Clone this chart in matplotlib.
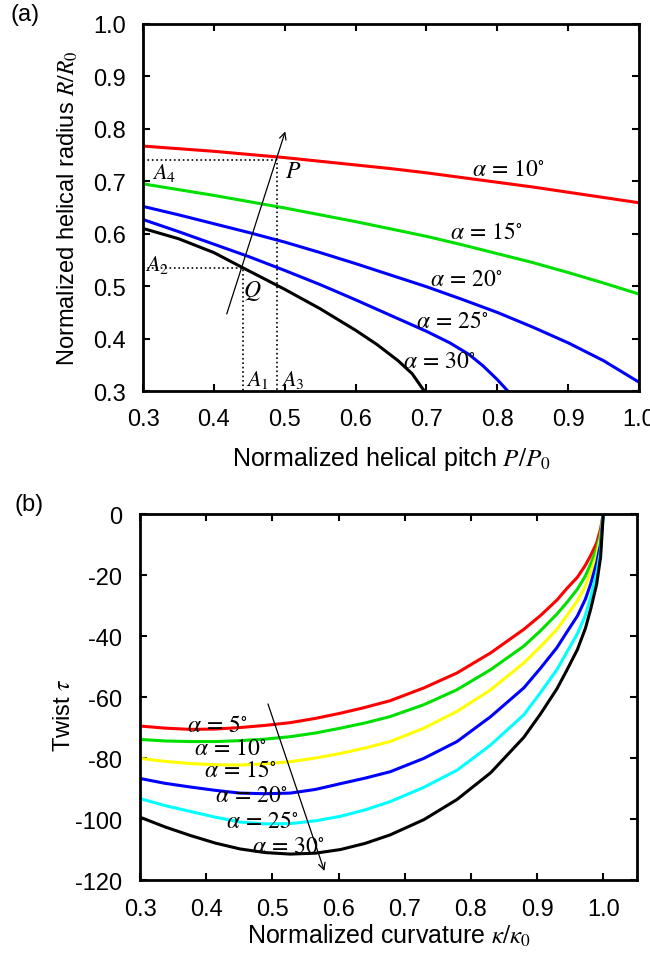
import matplotlib
matplotlib.use('Agg')
import matplotlib.pyplot as plt
from matplotlib.ticker import FormatStrFormatter

plt.rcParams['font.family'] = ['Liberation Sans', 'DejaVu Sans']
plt.rcParams['mathtext.fontset'] = 'stix'
plt.rcParams['axes.unicode_minus'] = False

# ---- panel (a): helical radius vs helical pitch ----
pitch = [0.3, 0.35, 0.4, 0.45, 0.5, 0.55, 0.6, 0.65, 0.7, 0.75, 0.8, 0.85, 0.9, 0.95, 1.0]
radius_10 = [0.767, 0.762, 0.757, 0.751, 0.745, 0.738, 0.731, 0.724, 0.716, 0.707, 0.698, 0.689, 0.679, 0.669, 0.659]
radius_15 = [0.695, 0.684, 0.673, 0.661, 0.649, 0.636, 0.623, 0.609, 0.595, 0.579, 0.562, 0.545, 0.526, 0.506, 0.485]
radius_20 = [0.652, 0.636, 0.619, 0.602, 0.584, 0.564, 0.543, 0.521, 0.499, 0.475, 0.450, 0.422, 0.392, 0.358, 0.317]
pitch_25 = [0.3, 0.35, 0.4, 0.45, 0.5, 0.55, 0.6, 0.65, 0.7, 0.733, 0.76, 0.78, 0.8, 0.815]
radius_25 = [0.627, 0.604, 0.580, 0.556, 0.530, 0.503, 0.474, 0.444, 0.414, 0.392, 0.370, 0.348, 0.322, 0.300]
pitch_30 = [0.3, 0.35, 0.4, 0.441, 0.5, 0.55, 0.6, 0.63, 0.66, 0.68, 0.697]
radius_30 = [0.610, 0.5905, 0.564, 0.535, 0.494, 0.457, 0.416, 0.389, 0.358, 0.333, 0.300]

labels_a = [r'$\alpha\,=\,10^{\circ}$', r'$\alpha\,=\,15^{\circ}$', r'$\alpha\,=\,20^{\circ}$',
            r'$\alpha\,=\,25^{\circ}$', r'$\alpha\,=\,30^{\circ}$']

# points P and Q
pt_P = (0.489, 0.741)
pt_Q = (0.441, 0.534)

# ---- panel (b): twist vs curvature ----
curv = [0.3, 0.338, 0.376, 0.414, 0.451, 0.489, 0.527, 0.565, 0.603, 0.640, 0.678, 0.729,
        0.779, 0.830, 0.880, 0.905, 0.930, 0.945, 0.961, 0.973, 0.981, 0.990, 0.996, 1.0]
twist_5 = [-69.5, -70.2, -70.6, -70.5, -70.0, -69.3, -68.4, -67.0, -65.3, -63.4, -61.2, -57.0,
           -52.1, -45.5, -37.8, -33.3, -28.2, -24.4, -20.7, -16.8, -13.6, -9.5, -4.8, 0]
twist_10 = [-73.9, -74.4, -74.6, -74.6, -74.3, -73.8, -73.0, -71.8, -70.2, -68.5, -66.4, -62.5,
            -57.6, -51.0, -43.3, -38.3, -32.8, -29.0, -24.6, -20.3, -16.3, -11.5, -6.4, 0]
twist_15 = [-80.1, -81.1, -81.8, -82.2, -82.3, -81.9, -81.2, -80.0, -78.5, -76.7, -74.6, -70.2,
            -64.7, -57.6, -48.8, -43.5, -37.8, -33.3, -28.4, -23.6, -19.1, -13.5, -7.5, 0]
twist_20 = [-86.7, -88.3, -89.5, -90.6, -91.5, -91.7, -91.5, -90.3, -88.4, -86.6, -84.5, -80.1,
            -74.6, -66.4, -57.0, -50.6, -43.8, -38.7, -33.4, -27.9, -22.9, -16.0, -9.7, 0]
twist_25 = [-93.3, -95.6, -97.5, -99.4, -101.0, -101.6, -101.5, -100.6, -99.1, -97.0, -94.3, -89.6,
            -84.0, -75.7, -65.8, -58.6, -51.0, -45.3, -39.2, -33.2, -27.3, -19.5, -11.9, 0]
twist_30 = [-99.4, -102.6, -105.4, -107.9, -109.8, -111.0, -111.5, -111.2, -110.0, -108.0, -105.2, -100.2,
            -93.6, -84.8, -73.2, -65.6, -57.3, -51.2, -44.4, -37.5, -31.2, -23.0, -14.1, 0]

labels_b = [r'$\alpha\,=\,5^{\circ}$', r'$\alpha\,=\,10^{\circ}$', r'$\alpha\,=\,15^{\circ}$',
            r'$\alpha\,=\,20^{\circ}$', r'$\alpha\,=\,25^{\circ}$', r'$\alpha\,=\,30^{\circ}$']

fig = plt.figure(figsize=(6.5, 9.54), dpi=100)
ax1 = fig.add_axes([0.220, 0.589, 0.763, 0.385])
ax2 = fig.add_axes([0.2154, 0.0765, 0.7646, 0.3836])


def style_axes(ax, pad):
    for s in ax.spines.values():
        s.set_linewidth(2)
    ax.tick_params(direction='in', top=True, right=True, length=5, width=1.5,
                   labelsize=17, pad=pad)


# panel (a)
ax1.plot(pitch, radius_10, color='#ff0000', lw=2.2)
ax1.plot(pitch, radius_15, color='#00e000', lw=2.2)
ax1.plot(pitch, radius_20, color='#0000ff', lw=2.2)
ax1.plot(pitch_25, radius_25, color='#0000ff', lw=2.2)
ax1.plot(pitch_30, radius_30, color='black', lw=2.2)

# dotted guides
ax1.plot([0.3, pt_P[0], pt_P[0]], [pt_P[1], pt_P[1], 0.3], ls=':', color='k', lw=1.2)
ax1.plot([0.3, pt_Q[0], pt_Q[0]], [pt_Q[1], pt_Q[1], 0.3], ls=':', color='k', lw=1.2)

ax1.annotate('', xy=(0.502, 0.800), xytext=(0.417, 0.442),
             arrowprops=dict(arrowstyle='->', color='k', lw=0.9, mutation_scale=12))

pos_a = [(0.765, 0.723), (0.733, 0.603), (0.705, 0.514), (0.685, 0.434), (0.667, 0.358)]
for (x, y), lab in zip(pos_a, labels_a):
    ax1.text(x, y, lab, fontsize=17, va='center', ha='left')

ax1.text(0.312, 0.717, r'$A_4$', fontsize=16, va='center')
ax1.text(0.303, 0.542, r'$A_2$', fontsize=16, va='center')
ax1.text(0.446, 0.323, r'$A_1$', fontsize=16, va='center')
ax1.text(0.495, 0.323, r'$A_3$', fontsize=16, va='center')
ax1.text(0.501, 0.720, r'$P$', fontsize=17, va='center')
ax1.text(0.441, 0.493, r'$Q$', fontsize=17, va='center')

ax1.set_xlim(0.3, 1.0)
ax1.set_ylim(0.3, 1.0)
ax1.set_xticks([0.3, 0.4, 0.5, 0.6, 0.7, 0.8, 0.9, 1.0])
ax1.set_yticks([0.3, 0.4, 0.5, 0.6, 0.7, 0.8, 0.9, 1.0])
ax1.xaxis.set_major_formatter(FormatStrFormatter('%.1f'))
ax1.yaxis.set_major_formatter(FormatStrFormatter('%.1f'))
style_axes(ax1, 12)
ax1.set_xlabel(r'Normalized helical pitch $P/P_0$', fontsize=18)
ax1.set_ylabel(r'Normalized helical radius $R/R_0$', fontsize=17)
ax1.xaxis.set_label_coords(0.5, -0.145)
ax1.yaxis.set_label_coords(-0.127, 0.5)

# panel (b)
colors_b = ['#ff0000', '#00e000', '#ffff00', '#0000ff', '#00ffff', 'black']
series_b = [twist_5, twist_10, twist_15, twist_20, twist_25, twist_30]
for ys, c in zip(series_b, colors_b):
    ax2.plot(curv, ys, color=c, lw=2.2)

ax2.annotate('', xy=(0.580, -117.9), xytext=(0.492, -61.4),
             arrowprops=dict(arrowstyle='->', color='k', lw=0.9, mutation_scale=12))

pos_b = [(0.371, -69.1), (0.381, -76.8), (0.396, -84.0), (0.413, -92.2), (0.430, -100.5), (0.469, -108.7)]
for (x, y), lab in zip(pos_b, labels_b):
    ax2.text(x, y, lab, fontsize=17, va='center', ha='left')

ax2.set_xlim(0.3, 1.051)
ax2.set_ylim(-120, 0)
ax2.set_xticks([0.3, 0.4, 0.5, 0.6, 0.7, 0.8, 0.9, 1.0])
ax2.set_yticks([0, -20, -40, -60, -80, -100, -120])
ax2.xaxis.set_major_formatter(FormatStrFormatter('%.1f'))
style_axes(ax2, 13)
ax2.set_xlabel(r'Normalized curvature $\kappa/\kappa_0$', fontsize=18)
ax2.set_ylabel(r'Twist $\tau$', fontsize=17)
ax2.xaxis.set_label_coords(0.5, -0.115)
ax2.yaxis.set_label_coords(-0.131, 0.454)

fig.text(10 / 650, 1 - 15 / 954, '(a)', fontsize=17, va='center', ha='left')
fig.text(14 / 650, 1 - 505 / 954, '(b)', fontsize=17, va='center', ha='left')

fig.savefig('out.png', dpi=100)
